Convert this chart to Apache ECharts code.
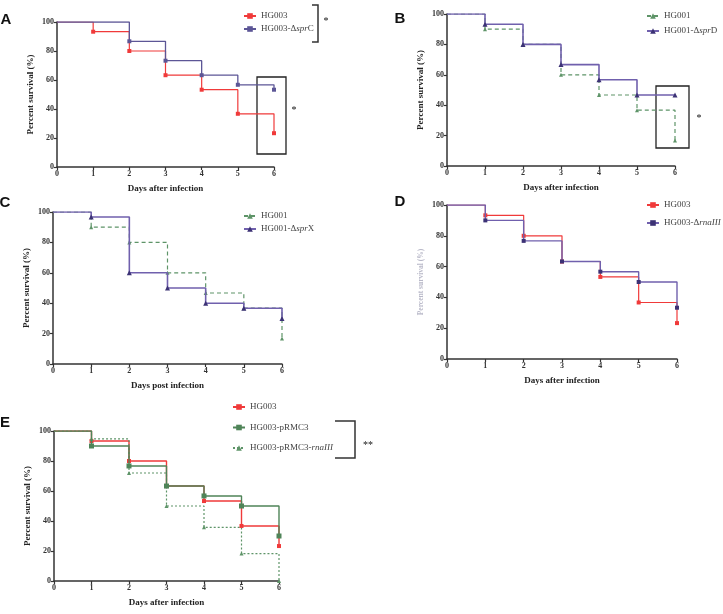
<!DOCTYPE html>
<html><head><meta charset="utf-8">
<script src="https://cdn.jsdelivr.net/npm/echarts@6/dist/echarts.min.js"></script>
<style>html,body{margin:0;padding:0;background:#fff}#c{width:723px;height:614px}</style>
</head><body><div id="c"></div>
<script>
// ---- data ----
const days = [0, 1, 2, 3, 4, 5, 6];
const A_HG003 = [100, 93.3, 80, 63.3, 53.3, 36.7, 23.3];
const A_sprC = [100, 100, 86.7, 73.3, 63.3, 56.7, 53.3];
const B_HG001 = [100, 90, 80, 60, 46.7, 36.7, 16.7];
const B_sprD = [100, 93.3, 80, 66.7, 56.7, 46.7, 46.7];
const C_HG001 = [100, 90, 80, 60, 46.7, 36.7, 16.7];
const C_sprX = [100, 96.7, 60, 50, 40, 36.7, 30];
const D_HG003 = [100, 93.3, 80, 63.3, 53.3, 36.7, 23.3];
const D_rnaIII = [100, 90, 76.7, 63.3, 56.7, 50, 33.3];
const E_HG003 = [100, 93.3, 80, 63.3, 53.3, 36.7, 23.3];
const E_pRMC3 = [100, 90, 76.7, 63.3, 56.7, 50, 30];
const E_pRMC3_rnaIII = [100, 94.7, 72, 50, 35.8, 18.3, 0];
const xLabelAfter = 'Days after infection';
const xLabelPost = 'Days post infection';
const yLabel = 'Percent survival (%)';
const panelLetters = ['A', 'B', 'C', 'D', 'E'];

// ---- styling ----
const SERIF = '"Liberation Serif","DejaVu Serif",serif';
const RED = '#f03a3a', PURPLE_L = '#7060ad', PURPLE_D = '#3c3275', PURPLE_A = '#5c5696';
const GREEN_D = '#5e9468', GREEN_S = '#4f8458';

const grids = [
  {left: 57, top: 22, width: 217, height: 145},
  {left: 447, top: 14, width: 228, height: 152},
  {left: 53, top: 212, width: 229, height: 152},
  {left: 447, top: 205, width: 230, height: 154},
  {left: 54, top: 431, width: 225, height: 150}
];

function xAx(i, name) {
  return {type: 'value', gridIndex: i, min: 0, max: 6, interval: 1, name: name,
    nameLocation: 'middle', nameGap: 17,
    nameTextStyle: {fontFamily: SERIF, fontWeight: 'bold', fontSize: 9, color: '#222'},
    axisLine: {show: true, lineStyle: {color: '#333', width: 1.5}},
    axisTick: {show: true, length: 3, lineStyle: {color: '#333', width: 1.2}},
    axisLabel: {fontFamily: SERIF, fontWeight: 'bold', fontSize: 8, color: '#333', margin: 3},
    splitLine: {show: false}};
}
function yAx(i, faded) {
  return {type: 'value', gridIndex: i, min: 0, max: 100, interval: 20, name: yLabel,
    nameLocation: 'middle', nameGap: 22, nameRotate: 90,
    nameTextStyle: {fontFamily: SERIF, fontWeight: 'bold', fontSize: faded ? 7.5 : 9, color: faded ? '#b8b8c8' : '#222'},
    axisLine: {show: true, lineStyle: {color: '#333', width: 1.5}},
    axisTick: {show: true, length: 3, lineStyle: {color: '#333', width: 1.2}},
    axisLabel: {fontFamily: SERIF, fontWeight: 'bold', fontSize: 8, color: '#333', margin: 3},
    splitLine: {show: false}};
}
function pts(data) {
  return data.map((v, i) => {
    const hide = i === 0 || (v === data[i - 1] && i < data.length - 1);
    const o = {value: [days[i], v]};
    if (hide) o.symbol = 'none';
    return o;
  });
}
function ser(name, gi, data, lineColor, markColor, symbol, size, type, width, z) {
  return {type: 'line', name: name, xAxisIndex: gi, yAxisIndex: gi, step: 'end',
    data: pts(data), symbol: symbol, symbolSize: size, showSymbol: true, z: z || 2,
    lineStyle: {color: lineColor, width: width || 1.3, type: type || 'solid'},
    itemStyle: {color: markColor}, animation: false};
}

const legendText = {
  'HG003': 'HG003',
  'HG003-ΔsprC': 'HG003-Δ{i|spr}C',
  'HG001': 'HG001',
  'HG001-ΔsprD': 'HG001-Δ{i|spr}D',
  'HG001-ΔsprX': 'HG001-Δ{i|spr}X',
  'HG003-ΔrnaIII': 'HG003-Δ{i|rnaIII}',
  'HG003-pRMC3': 'HG003-pRMC3',
  'HG003-pRMC3-rnaIII': 'HG003-pRMC3-{i|rnaIII}'
};
function leg(left, top, gap, data) {
  return {orient: 'vertical', left: left, top: top, itemGap: gap, itemWidth: 12, itemHeight: 7,
    padding: 0, data: data, selectedMode: false,
    formatter: n => legendText[n],
    textStyle: {fontFamily: SERIF, fontSize: 9, lineHeight: 10, color: '#444',
      rich: {i: {fontFamily: SERIF, fontStyle: 'italic', fontSize: 9, lineHeight: 10, color: '#444'}}}};
}

function bracket(x1, x2, y1, y2) {
  return {type: 'polyline', shape: {points: [[x1, y1], [x2, y1], [x2, y2], [x1, y2]]},
    style: {stroke: '#333', lineWidth: 1.5, fill: null}};
}
function box(x, y, w, h) {
  return {type: 'rect', shape: {x: x, y: y, width: w, height: h},
    style: {stroke: '#222', lineWidth: 1.3, fill: null}};
}
function txt(x, y, s, size, font, weight) {
  return {type: 'text', x: x, y: y, style: {text: s, fontSize: size, fontFamily: font, fontWeight: weight || 'normal',
    fill: '#111', textAlign: 'center', textVerticalAlign: 'middle'}};
}
const letterPos = [[6, 20], [400, 19], [5, 203], [400, 202], [5, 423]];

const option = {
  backgroundColor: '#fff',
  animation: false,
  grid: grids,
  xAxis: [xAx(0, xLabelAfter), xAx(1, xLabelAfter), xAx(2, xLabelPost), xAx(3, xLabelAfter), xAx(4, xLabelAfter)],
  yAxis: [yAx(0), yAx(1), yAx(2), yAx(3, true), yAx(4)],
  legend: [
    leg(243, 11, 3, ['HG003', 'HG003-ΔsprC']),
    leg(646, 11, 5, ['HG001', 'HG001-ΔsprD']),
    leg(243, 211, 3, ['HG001', 'HG001-ΔsprX']),
    leg(646, 200, 8, ['HG003', 'HG003-ΔrnaIII']),
    leg(232, 402, 10.5, ['HG003', 'HG003-pRMC3', 'HG003-pRMC3-rnaIII'])
  ],
  series: [
    ser('HG003', 0, A_HG003, RED, RED, 'rect', 4, 'solid', 1.2, 2),
    ser('HG003-ΔsprC', 0, A_sprC, PURPLE_A, PURPLE_A, 'rect', 4, 'solid', 1.3, 3),
    ser('HG001', 1, B_HG001, GREEN_D, GREEN_D, 'triangle', 4, [4, 3], 1.2, 2),
    ser('HG001-ΔsprD', 1, B_sprD, PURPLE_L, PURPLE_D, 'triangle', 5, 'solid', 1.6, 3),
    ser('HG001', 2, C_HG001, GREEN_D, GREEN_D, 'triangle', 4, [4, 3], 1.2, 2),
    ser('HG001-ΔsprX', 2, C_sprX, PURPLE_L, PURPLE_D, 'triangle', 5, 'solid', 1.6, 3),
    ser('HG003', 3, D_HG003, RED, RED, 'rect', 4, 'solid', 1.2, 2),
    ser('HG003-ΔrnaIII', 3, D_rnaIII, PURPLE_L, PURPLE_D, 'rect', 4, 'solid', 1.4, 3),
    ser('HG003', 4, E_HG003, RED, RED, 'rect', 4, 'solid', 1.4, 2),
    ser('HG003-pRMC3', 4, E_pRMC3, GREEN_S, GREEN_S, 'rect', 5, 'solid', 1.4, 3),
    ser('HG003-pRMC3-rnaIII', 4, E_pRMC3_rnaIII, GREEN_D, GREEN_D, 'triangle', 4, [2, 2], 1.2, 2)
  ],
  graphic: [
    bracket(312, 318, 5, 42), txt(326, 21, '*', 10, SERIF),
    box(257, 77, 29, 77), txt(294, 110, '*', 10, SERIF),
    box(656, 86, 33, 62), txt(699, 118, '*', 10, SERIF),
    bracket(335, 355, 421, 458), txt(368, 445, '**', 10, SERIF)
  ].concat(panelLetters.map((l, i) => txt(letterPos[i][0], letterPos[i][1], l, 15, '"Liberation Sans",Arial,sans-serif', 'bold')))
};
const chart = echarts.init(document.getElementById('c'), null, {renderer: 'canvas'});
chart.setOption(option);
</script></body></html>
